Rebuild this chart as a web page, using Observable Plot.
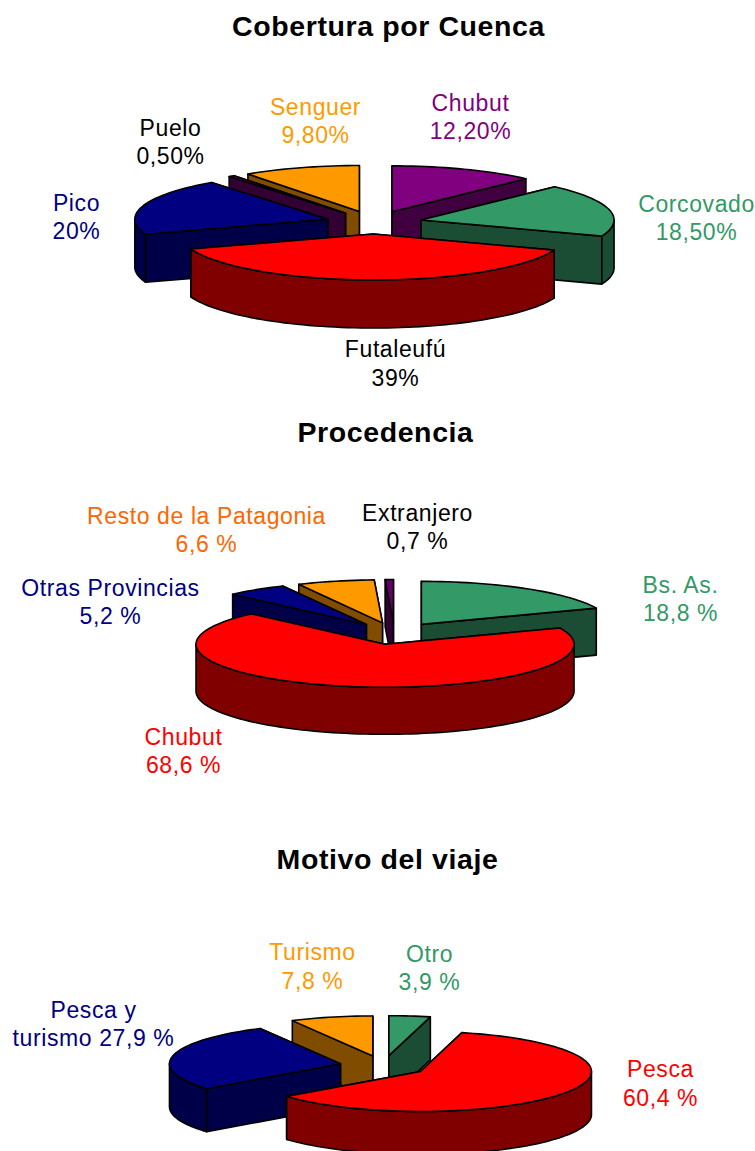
<!DOCTYPE html>
<html>
<head>
<meta charset="utf-8">
<script src="https://cdn.jsdelivr.net/npm/d3@7"></script>
<script src="https://cdn.jsdelivr.net/npm/@observablehq/plot@0.6"></script>
<style>
html,body{margin:0;padding:0;background:#fff;overflow:hidden}
svg{display:block}
</style>
</head>
<body>
<div id="chart"></div>
<script>
// ---- data ----
const cuencaNames  = ["Chubut","Corcovado","Futaleufú","Pico","Puelo","Senguer"];
const cuencaValues = [12.2,18.5,39,20,0.5,9.8];
const cuencaLabels = ["12,20%","18,50%","39%","20%","0,50%","9,80%"];

const procedenciaNames  = ["Bs. As.","Chubut","Otras Provincias","Resto de la Patagonia","Extranjero"];
const procedenciaValues = [18.8,68.6,5.2,6.6,0.7];
const procedenciaLabels = ["18,8 %","68,6 %","5,2 %","6,6 %","0,7 %"];

const motivoNames  = ["Otro","Pesca","Pesca y\nturismo","Turismo"];
const motivoValues = [3.9,60.4,27.9,7.8];
const motivoLabels = ["3,9 %","60,4 %","27,9 %","7,8 %"];

const titles = ["Cobertura por Cuenca","Procedencia","Motivo del viaje"];

// ---- styles ----
const GREEN=["#339966","#1a4d33"],RED=["#ff0000","#800000"],NAVY=["#000080","#000048"],
      ORANGE=["#ff9900","#804d00"],PURPLE=["#800080","#400040"],DPURPLE=["#660066","#330033"];

const pies=[
 {names:cuencaNames,values:cuencaValues,labels:cuencaLabels,title:titles[0],tx:388,ty:35.5,
  cx:373.5,cy:222,rx:193,ry:46,d:48,e:.25,
  colors:[PURPLE,GREEN,RED,NAVY,DPURPLE,ORANGE],
  text:["#800080","#339966","#000000","#000080","#000000","#ff9900"],
  at:[[470,138.7],[696,239.7],[395,385.5],[76,238.7],[170,163.7],[315,142.7]]},
 {names:procedenciaNames,values:procedenciaValues,labels:procedenciaLabels,title:titles[1],tx:385,ty:441,
  cx:394,cy:633,rx:189,ry:43,d:47,e:.255,
  colors:[GREEN,RED,NAVY,ORANGE,DPURPLE],
  text:["#339966","#ff0000","#000080","#ff6600","#000000"],
  at:[[680,620.7],[183,772.7],[110,623.7],[206,551.7],[417,548.7]]},
 {names:motivoNames,values:motivoValues,labels:motivoLabels,title:titles[2],tx:387,ty:868,
  cx:383,cy:1065.4,rx:171,ry:40,d:43,e:.257,
  colors:[GREEN,RED,NAVY,ORANGE],
  text:["#339966","#ff0000","#000080","#ff9900"],
  at:[[429,989.7],[660,1105],[93,1045.7],[312,988]]}
];

const rad=a=>a*Math.PI/180;
const marks=[];
const lineStyle={x:"x",y:"y",stroke:"#000",strokeWidth:1.6,strokeLinejoin:"round",curve:"linear",clip:true};
const poly=(pts,fill)=>marks.push(Plot.line([...pts,pts[0]],{...lineStyle,fill}));

for(const p of pies){
  const total=d3.sum(p.values);
  let acc=0;
  const slices=p.values.map((v,i)=>{
    const a0=acc/total*360; acc+=v; const a1=acc/total*360; const m=(a0+a1)/2;
    return {i,a0,a1,m,
      ax:p.cx+p.e*p.rx*Math.sin(rad(m)),
      ay:p.cy-p.e*p.ry*Math.cos(rad(m))};
  });
  // back slices first, front slices last
  for(const s of [...slices].sort((a,b)=>-Math.cos(rad(a.m))+Math.cos(rad(b.m)))){
    const [top,side]=p.colors[s.i];
    const pt=(a,dz=0)=>({x:s.ax+p.rx*Math.sin(rad(a)),y:s.ay-p.ry*Math.cos(rad(a))+dz});
    const apex={x:s.ax,y:s.ay}, apexB={x:s.ax,y:s.ay+p.d};
    const arc=(a,b,dz=0)=>{const n=Math.max(2,Math.ceil(Math.abs(b-a)/2));
      return d3.range(n+1).map(k=>pt(a+(b-a)*k/n,dz));};
    // radial walls: the one facing away from the viewer goes first
    for(const a of [s.a0,s.a1].sort((u,v)=>-Math.cos(rad(u))+Math.cos(rad(v))))
      poly([apex,pt(a),pt(a,p.d),apexB],side);
    // outer wall, only the front half of the rim
    const f0=Math.max(s.a0,90),f1=Math.min(s.a1,270);
    if(f1>f0) poly([...arc(f0,f1),...arc(f1,f0,p.d)],side);
    poly([apex,...arc(s.a0,s.a1)],top);
  }
  marks.push(Plot.text(p.names.map((n,i)=>({t:n+(n.includes("\n")?" ":"\n")+p.labels[i],x:p.at[i][0],y:p.at[i][1],c:p.text[i]})),{
    x:"x",y:"y",text:"t",fill:d=>d.c,textAnchor:"middle",lineAnchor:"bottom",lineHeight:1.24,
    fontSize:23,fontFamily:"Liberation Sans"}));
  marks.push(Plot.text([{t:p.title,x:p.tx,y:p.ty}],{x:"x",y:"y",text:"t",fill:"#000",textAnchor:"middle",lineAnchor:"bottom",
    fontSize:28.5,fontWeight:"bold",fontFamily:"Liberation Sans"}));
}

const chart=Plot.plot({
  width:755,height:1151,margin:0,
  style:{background:"#fff",letterSpacing:"0.6px"},
  x:{domain:[0,755],range:[0,755],axis:null},
  y:{domain:[0,1151],range:[0,1151],axis:null},
  color:{type:"identity"},
  marks
});
document.getElementById("chart").append(chart);
</script>
</body>
</html>
